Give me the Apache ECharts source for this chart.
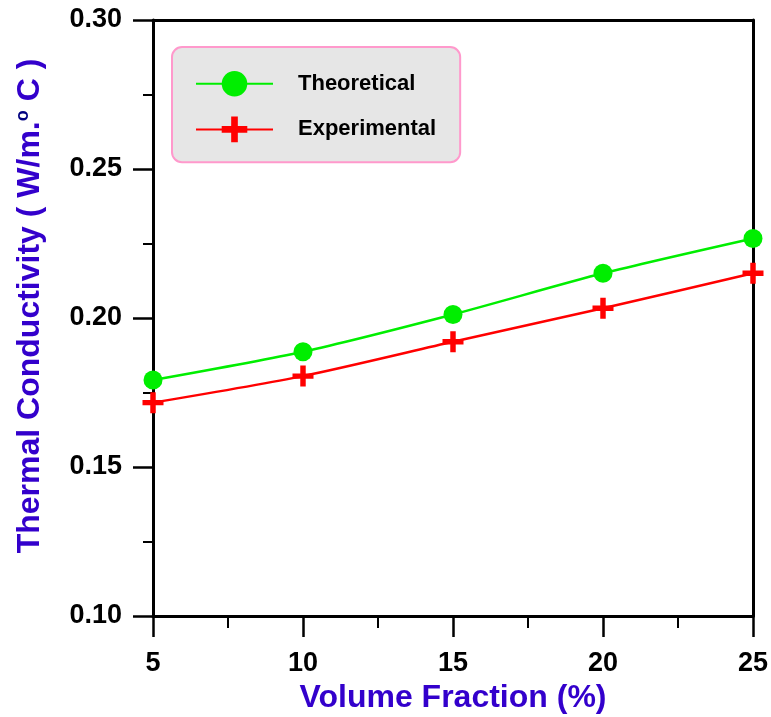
<!DOCTYPE html>
<html>
<head>
<meta charset="utf-8">
<script src="https://cdn.jsdelivr.net/npm/echarts@6/dist/echarts.min.js"></script>
<style>
  html, body { margin: 0; padding: 0; background: #fff; }
  #chart { width: 771px; height: 717px; }
</style>
</head>
<body>
<div id="chart"></div>
<script>
// data
var volumeFraction = [5, 10, 15, 20, 25];
var theoretical = [0.1792, 0.1887, 0.2012, 0.2150, 0.2267];
var experimental = [0.1716, 0.1805, 0.1920, 0.2033, 0.2150];

var FONT = 'Arial, "Liberation Sans", sans-serif';
var CROSS = 'path://M37,0H63V37H100V63H63V100H37V63H0V37H37Z';

function pairs(xs, ys) {
    var res = [];
    for (var i = 0; i < xs.length; i++) {
        res.push([xs[i], ys[i]]);
    }
    return res;
}

var myChart = echarts.init(document.getElementById('chart'));
myChart.setOption({
    backgroundColor: '#fff',
    animation: false,
    grid: { left: 153, right: 18, top: 20, bottom: 101, containLabel: false, outerBoundsMode: 'none' },
    legend: {
        orient: 'vertical',
        left: 172,
        top: 47,
        padding: [24, 24, 20, 23],
        itemWidth: 77,
        itemHeight: 32,
        itemGap: 20,
        backgroundColor: '#e6e6e6',
        borderColor: '#ff99cc',
        borderWidth: 2,
        borderRadius: 10,
        textStyle: { fontFamily: FONT, fontWeight: 'bold', fontSize: 22, color: '#000', padding: [0, 0, 0, 20] },
        data: ['Theoretical', 'Experimental']
    },
    xAxis: [{
        type: 'value',
        min: 5,
        max: 25,
        interval: 5,
        name: 'Volume Fraction (%)',
        nameLocation: 'middle',
        nameGap: 65,
        nameTextStyle: { fontFamily: FONT, fontWeight: 'bold', fontSize: 32, color: '#3300cc' },
        axisLine: { lineStyle: { color: '#000', width: 3 } },
        axisTick: { length: 21, lineStyle: { color: '#000', width: 2.5 } },
        minorTick: { show: true, splitNumber: 2, length: 12, lineStyle: { color: '#000', width: 2 } },
        splitLine: { show: false },
        axisLabel: { fontFamily: FONT, fontWeight: 'bold', fontSize: 27, color: '#000', margin: 34 }
    }, {
        type: 'value',
        position: 'top',
        min: 5,
        max: 25,
        axisLine: { show: true, lineStyle: { color: '#000', width: 3 } },
        axisTick: { show: false },
        axisLabel: { show: false },
        splitLine: { show: false }
    }],
    yAxis: [{
        type: 'value',
        min: 0.10,
        max: 0.30,
        interval: 0.05,
        name: '{a|Thermal Conductivity ( W/m.}{b|o}{a| C )}',
        nameLocation: 'middle',
        nameGap: 106,
        nameRotate: 90,
        nameTextStyle: {
            padding: [0, 0, 0, 24],
            rich: {
                a: { fontFamily: FONT, fontWeight: 'bold', fontSize: 32, color: '#3300cc' },
                b: { fontFamily: FONT, fontWeight: 'bold', fontSize: 18, color: '#000080', verticalAlign: 'top', padding: [0, 0, 15, 0] }
            }
        },
        axisLine: { show: true, lineStyle: { color: '#000', width: 3 } },
        axisTick: { length: 20, lineStyle: { color: '#000', width: 2.5 } },
        minorTick: { show: true, splitNumber: 2, length: 10, lineStyle: { color: '#000', width: 2 } },
        splitLine: { show: false },
        axisLabel: {
            fontFamily: FONT, fontWeight: 'bold', fontSize: 27, color: '#000', margin: 31,
            formatter: function (v) { return v.toFixed(2); }
        }
    }, {
        type: 'value',
        position: 'right',
        min: 0.10,
        max: 0.30,
        axisLine: { show: true, lineStyle: { color: '#000', width: 3 } },
        axisTick: { show: false },
        axisLabel: { show: false },
        splitLine: { show: false }
    }],
    series: [{
        name: 'Theoretical',
        type: 'line',
        smooth: 0.25,
        data: pairs(volumeFraction, theoretical),
        symbol: 'circle',
        symbolSize: 19,
        itemStyle: { color: '#00ee00' },
        lineStyle: { color: '#00ee00', width: 2.5 },
        z: 3
    }, {
        name: 'Experimental',
        type: 'line',
        smooth: 0.25,
        data: pairs(volumeFraction, experimental),
        symbol: CROSS,
        symbolSize: 21,
        itemStyle: { color: '#ff0000' },
        lineStyle: { color: '#ff0000', width: 2.5 },
        z: 4
    }]
});
</script>
</body>
</html>
